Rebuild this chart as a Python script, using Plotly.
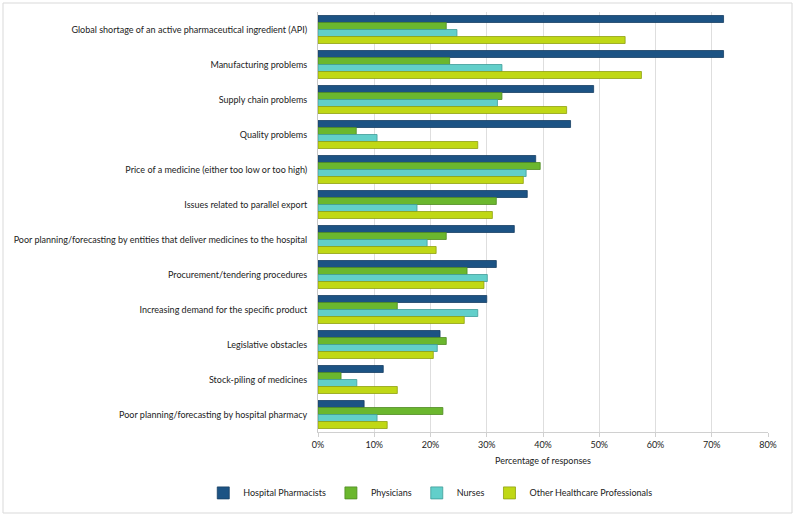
import plotly.graph_objects as go

categories = [
    "Global shortage of an active pharmaceutical ingredient (API)",
    "Manufacturing problems",
    "Supply chain problems",
    "Quality problems",
    "Price of a medicine (either too low or too high)",
    "Issues related to parallel export",
    "Poor planning/forecasting by entities that deliver medicines to the hospital",
    "Procurement/tendering procedures",
    "Increasing demand for the specific product",
    "Legislative obstacles",
    "Stock-piling of medicines",
    "Poor planning/forecasting by hospital pharmacy",
]
hospital_pharmacists = [72.1, 72.1, 49.0, 44.9, 38.7, 37.2, 34.9, 31.7, 30.0, 21.7, 11.6, 8.2]
physicians = [22.8, 23.4, 32.7, 6.8, 39.5, 31.7, 22.8, 26.5, 14.1, 22.8, 4.1, 22.2]
nurses = [24.7, 32.7, 31.9, 10.5, 37.0, 17.6, 19.4, 30.1, 28.4, 21.2, 6.9, 10.5]
other_hcp = [54.6, 57.5, 44.2, 28.4, 36.5, 31.0, 21.0, 29.5, 26.0, 20.5, 14.1, 12.3]
x_ticks = [0, 10, 20, 30, 40, 50, 60, 70, 80]
x_tick_labels = ["0%", "10%", "20%", "30%", "40%", "50%", "60%", "70%", "80%"]

series = [
    ("Hospital Pharmacists", hospital_pharmacists, "#1c5384", "#163f63"),
    ("Physicians", physicians, "#6bb72e", "#4f8a22"),
    ("Nurses", nurses, "#62cfca", "#3f9c98"),
    ("Other Healthcare Professionals", other_hcp, "#c0d815", "#8fa112"),
]

fig = go.Figure()
for name, vals, col, lcol in series:
    fig.add_trace(go.Bar(
        name=name, y=categories, x=vals, orientation="h",
        marker=dict(color=col, line=dict(color=lcol, width=0.8)),
    ))

font = "Lato, 'Open Sans', sans-serif"
fig.update_layout(
    width=796, height=516,
    margin=dict(l=318, r=28, t=12, b=84, autoexpand=False),
    paper_bgcolor="white", plot_bgcolor="white",
    barmode="group", bargap=0.2, bargroupgap=0.0,
    font=dict(family=font, size=9, color="#222222"),
    showlegend=True,
    legend=dict(orientation="h", x=-0.255, xanchor="left", y=-0.145, yanchor="middle",
                font=dict(size=9), traceorder="normal", itemwidth=30),
    xaxis=dict(
        range=[0, 80], tickvals=x_ticks, ticktext=x_tick_labels,
        showgrid=True, gridcolor="#dedede", gridwidth=1,
        showline=True, linecolor="#d0d0d0", ticks="outside", ticklen=4, tickcolor="#d0d0d0",
        zeroline=False,
        title=dict(text="Percentage of responses", font=dict(size=9), standoff=8),
        tickfont=dict(size=9),
    ),
    yaxis=dict(
        autorange="reversed", showline=True, linecolor="#c8c8c8",
        ticks="", ticklabelstandoff=8, tickfont=dict(size=9),
    ),
)
fig.add_shape(type="rect", xref="paper", yref="paper",
              x0=(3 - 318) / 450, x1=(792 - 318) / 450,
              y0=(432 - 513) / 420, y1=(432 - 3) / 420,
              line=dict(color="#d9d9d9", width=1), layer="below")
fig.write_html("out.html", config={"displayModeBar": False},
               post_script="document.body.style.margin='0px';")
